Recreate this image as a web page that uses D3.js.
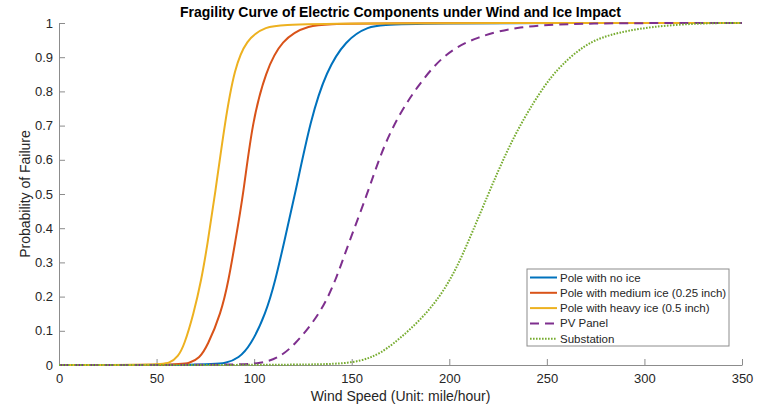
<!DOCTYPE html>
<html>
<head>
<meta charset="utf-8">
<script src="https://cdn.jsdelivr.net/npm/d3@7"></script>
<style>
  body { margin: 0; background: #fff; }
  svg text { font-family: "Liberation Sans", Arial, Helvetica, sans-serif; fill: #262626; }
</style>
</head>
<body>
<div id="chart"></div>
<script>
// values (wind speed in mph, probability of failure)
const seriesNames = ['Pole with no ice', 'Pole with medium ice (0.25 inch)', 'Pole with heavy ice (0.5 inch)', 'PV Panel', 'Substation'];

const noIceSpeed = [0, 75, 86, 92, 98, 106, 111, 115, 121, 129, 137, 147, 158, 170, 350];
const noIceProb  = [0, 0, 0.005, 0.02, 0.055, 0.15, 0.25, 0.35, 0.5, 0.72, 0.86, 0.95, 0.99, 1, 1];

const mediumIceSpeed = [0, 60, 67, 72, 76, 83, 87, 90, 94.5, 99, 106, 114, 127, 145, 350];
const mediumIceProb  = [0, 0, 0.005, 0.02, 0.055, 0.15, 0.25, 0.35, 0.5, 0.71, 0.86, 0.95, 0.995, 1, 1];

const heavyIceSpeed = [0, 50, 57, 61, 64, 69, 73, 76, 80, 85, 90, 96, 105, 120, 350];
const heavyIceProb  = [0, 0, 0.005, 0.025, 0.055, 0.15, 0.25, 0.35, 0.5, 0.71, 0.87, 0.95, 0.99, 1, 1];

const pvSpeed = [0, 90, 104, 112, 120, 134, 142, 148, 158, 165, 173, 183, 197, 214, 235, 265, 350];
const pvProb  = [0, 0, 0.005, 0.02, 0.053, 0.15, 0.25, 0.35, 0.5, 0.62, 0.72, 0.81, 0.91, 0.96, 0.99, 1, 1];

const substationSpeed = [0, 130, 149, 160, 170, 189, 201, 209, 220, 229, 238, 249, 257, 269, 281, 303, 330, 350];
const substationProb  = [0, 0, 0.005, 0.02, 0.053, 0.15, 0.25, 0.35, 0.5, 0.62, 0.72, 0.82, 0.875, 0.935, 0.966, 0.99, 1, 1];

const xTicks = [0, 50, 100, 150, 200, 250, 300, 350];
const yTicks = [0, 0.1, 0.2, 0.3, 0.4, 0.5, 0.6, 0.7, 0.8, 0.9, 1];

const zip = (xs, ys) => xs.map((x, i) => ({ x: x, y: ys[i] }));

const series = [
  { name: seriesNames[0], pts: zip(noIceSpeed, noIceProb), color: '#0072BD', dash: null },
  { name: seriesNames[1], pts: zip(mediumIceSpeed, mediumIceProb), color: '#D95319', dash: null },
  { name: seriesNames[2], pts: zip(heavyIceSpeed, heavyIceProb), color: '#EDB120', dash: null },
  { name: seriesNames[3], pts: zip(pvSpeed, pvProb), color: '#7E2F8E', dash: '9,6' },
  { name: seriesNames[4], pts: zip(substationSpeed, substationProb), color: '#77AC30', dash: '1.6,1.4' }
];

const W = 763, H = 406;
const margin = { top: 23, right: 21, bottom: 41, left: 59 };
const width = W - margin.left - margin.right;
const height = H - margin.top - margin.bottom;

const svg = d3.select('#chart').append('svg')
  .attr('width', W)
  .attr('height', H);

const g = svg.append('g')
  .attr('transform', `translate(${margin.left},${margin.top})`);

const x = d3.scaleLinear().domain([0, 350]).range([0, width]);
const y = d3.scaleLinear().domain([0, 1]).range([height, 0]);

// axes, ticks pointing inward like matlab
const xAxis = g.append('g')
  .attr('transform', `translate(0,${height})`)
  .call(d3.axisBottom(x).tickValues(xTicks).tickSizeInner(-6).tickSizeOuter(0).tickPadding(9));

const yAxis = g.append('g')
  .call(d3.axisLeft(y).tickValues(yTicks).tickFormat(d3.format('~g')).tickSizeInner(-6).tickSizeOuter(0).tickPadding(6));

[xAxis, yAxis].forEach(ax => {
  ax.select('.domain').attr('stroke', '#8c8c8c');
  ax.selectAll('.tick line').attr('stroke', '#8c8c8c');
  ax.selectAll('.tick text').style('font-size', '13px').style('fill', '#262626');
});

// smooth b-spline through the read-off points
const line = d3.line()
  .x(d => x(d.x))
  .y(d => y(d.y))
  .curve(d3.curveBasis);

g.selectAll('.curve')
  .data(series)
  .enter()
  .append('path')
  .attr('class', 'curve')
  .attr('fill', 'none')
  .attr('stroke', d => d.color)
  .attr('stroke-width', 2)
  .attr('stroke-dasharray', d => d.dash)
  .attr('d', d => line(d.pts));

// title and labels
svg.append('text')
  .attr('x', margin.left + width / 2)
  .attr('y', 17)
  .attr('text-anchor', 'middle')
  .style('font-size', '14px')
  .style('font-weight', 'bold')
  .style('fill', '#000')
  .text('Fragility Curve of Electric Components under Wind and Ice Impact');

svg.append('text')
  .attr('x', margin.left + width / 2)
  .attr('y', 401)
  .attr('text-anchor', 'middle')
  .style('font-size', '14px')
  .text('Wind Speed (Unit: mile/hour)');

svg.append('text')
  .attr('transform', `translate(30,${margin.top + height / 2}) rotate(-90)`)
  .attr('text-anchor', 'middle')
  .style('font-size', '14px')
  .text('Probability of Failure');

// legend
const lg = svg.append('g').attr('transform', 'translate(527,269)');
lg.append('rect')
  .attr('width', 202)
  .attr('height', 77)
  .attr('fill', '#fff')
  .attr('stroke', '#8c8c8c')
  .attr('stroke-width', 1);

const rows = lg.selectAll('.row')
  .data(series)
  .enter()
  .append('g')
  .attr('transform', (d, i) => `translate(0,${8.5 + i * 15.3})`);

rows.append('line')
  .attr('x1', 3).attr('x2', 30)
  .attr('stroke', d => d.color)
  .attr('stroke-width', 2)
  .attr('stroke-dasharray', d => d.dash);

rows.append('text')
  .attr('x', 33)
  .attr('y', 4)
  .style('font-size', '11.5px')
  .text(d => d.name);
</script>
</body>
</html>
